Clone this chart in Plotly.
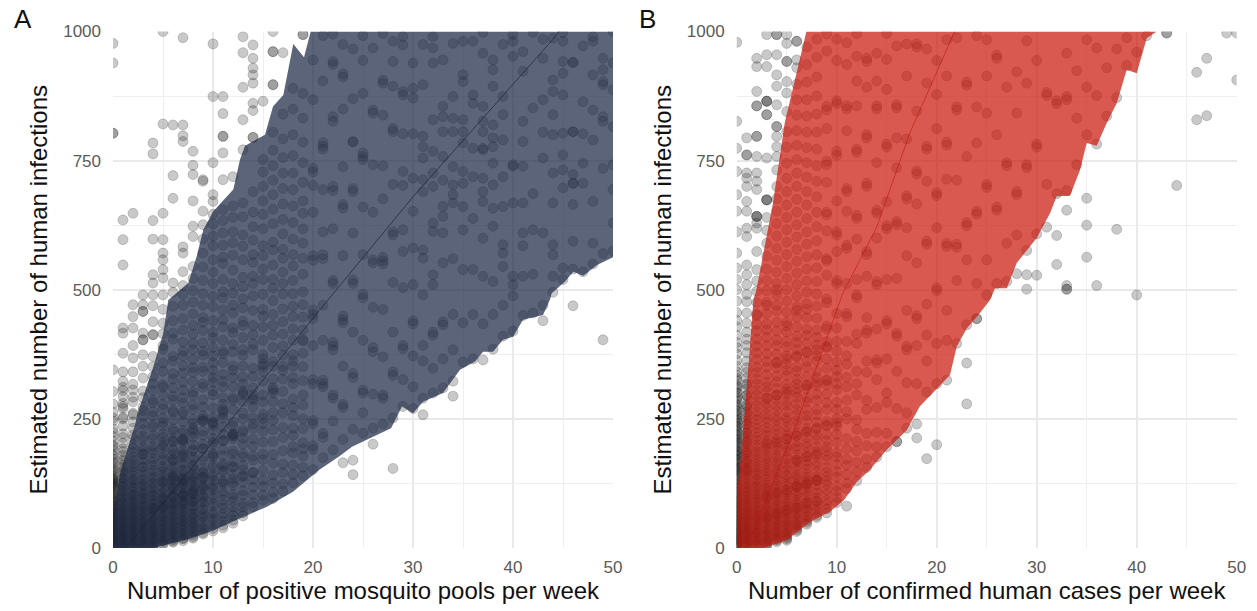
import plotly.graph_objects as go

# Panel A: estimated infections per integer count of positive pools (read by eye)
a0 = [1,2,4,5,7,8,10,12,13,15,17,18,20,21,23,26,27,29,30,33,34,36,39,40,42,44,47,48,50,53,54,57,59,60,63,65,68,69,72,75,76,79,82,83,87,89,92,94,97,99,103,105,108,112,115,117,121,124,127,131,134,138,141,146,150,153,158,163,167,172,178,181,189,196,199,207,216,224,231,246,252,263,279,303,345,803,803,939,977]
a1 = [1,3,4,6,9,10,13,14,16,19,20,23,25,26,29,32,33,36,38,41,43,46,47,51,52,56,58,61,63,67,69,72,76,77,81,85,88,90,95,98,101,106,109,113,118,120,125,129,134,136,142,147,150,156,160,168,171,179,187,192,203,214,221,236,250,253,270,274,280,293,305,311,323,341,377,416,426,548,597,635]
a2 = [2,3,6,7,10,13,14,17,19,22,24,26,29,31,34,37,39,40,44,46,49,52,55,56,60,63,65,69,71,75,78,80,84,87,91,93,98,102,103,108,113,117,120,126,131,133,140,146,151,157,163,170,176,185,193,200,212,219,232,244,258,261,283,292,306,317,341,368,392,426,448,471,648]
a3 = [0,3,5,8,9,12,15,16,20,21,24,27,30,33,34,38,41,42,46,49,50,54,58,60,63,67,70,72,77,81,82,87,91,96,97,103,106,110,116,121,123,130,134,141,147,155,158,166,172,182,189,195,209,216,229,241,254,266,273,291,304,329,352,374,403,403,416,458,458,471,490]
a4 = [0,2,5,7,10,13,15,18,20,23,26,28,31,33,36,40,41,45,48,51,53,57,61,62,67,70,74,76,80,85,87,92,95,101,103,108,113,117,124,127,134,138,146,151,160,167,173,184,190,197,211,218,234,239,256,264,281,286,305,318,332,351,371,413,413,438,469,490,513,529,598,634,763,784]
a5 = [7,9,13,14,18,20,24,27,29,33,36,38,43,45,48,52,54,59,61,65,68,73,76,79,84,86,92,95,99,106,108,115,118,126,129,136,141,148,155,158,170,175,183,194,199,214,221,236,243,251,269,278,296,311,316,342,358,385,392,415,435,462,490,523,539,558,571,597,648,821,1000]
a6 = [11,13,16,19,22,26,28,32,33,38,41,43,47,51,53,58,61,63,68,72,75,78,83,88,90,96,99,103,109,114,117,124,129,136,138,146,153,158,167,171,181,188,192,207,213,226,231,248,263,267,286,294,310,327,338,362,371,404,416,440,468,495,513,677,721,819]
a7 = [14,18,19,24,27,29,34,36,40,44,46,51,53,57,61,64,70,72,76,82,84,90,93,99,102,108,115,117,124,130,133,141,148,151,161,166,176,183,189,203,209,222,228,244,258,263,280,291,306,321,339,353,372,381,399,422,444,470,491,508,535,571,583,787,798,819,988]
a8 = [19,22,26,31,33,38,41,46,49,52,58,60,66,68,74,79,81,88,90,97,103,105,113,118,122,131,136,143,152,158,171,176,191,200,214,222,241,249,268,277,296,302,322,340,349,365,384,396,414,431,453,476,498,522,545,603,623,672,723,741,768]
a9 = [27,30,36,39,45,51,58,62,66,74,77,86,90,99,104,112,119,123,133,138,148,155,170,176,192,201,218,226,246,256,273,287,311,318,342,350,373,381,397,421,437,446,470,492,518,544,571,598,626,652,710,713]
a10 = [33,38,44,52,57,65,69,81,86,96,102,113,117,131,138,156,161,176,183,205,212,228,244,252,271,296,304,321,330,344,358,372,388,407,418,440,467,487,512,534,558,585,604,627,646,671,684,746,874,976]
a11 = [39,44,52,60,66,77,84,93,104,110,124,130,147,158,163,179,191,208,220,234,251,259,278,291,312,323,336,359,376,381,402,428,442,461,484,496,520,551,563,586,610,634,655,713,765,797,797,841,874]
a12 = [48,54,63,70,79,90,98,104,121,127,142,158,168,182,188,211,220,236,244,268,286,291,312,330,344,352,380,394,417,426,455,470,493,512,538,567,591,612,640,662,719]
a13 = [62,68,80,87,102,111,127,138,151,176,182,201,212,229,250,261,283,296,318,331,352,373,384,407,431,439,465,482,506,524,558,584,606,641,668,771,829,892,959,990]
a14 = [80,88,103,118,132,146,170,178,197,211,240,252,273,296,310,332,348,384,395,413,431,460,488,512,526,553,568,596,622,650,690,795,795,847,861,900,916,929,948,974]
a15 = [92,102,119,131,150,171,182,205,226,251,259,283,296,323,342,366,374,402,428,449,462,491,520,540,566,585,618,646,672,700,728,752,865]
a16 = [96,108,126,141,164,181,206,229,247,262,283,310,327,352,361,388,412,431,452,479,503,520,548,577,592,628,656,684,712,740,770,805,897,897,961,961,1000]
a17 = [110,124,146,162,188,214,233,262,279,303,327,352,373,391,414,438,463,492,512,534,561,578,608,636,666,696,726,756,792,840,959]
a18 = [126,142,160,184,196,218,232,256,272,288,318,330,352,374,402,424,448,468,492,518,546,568,598,630,662,694,726,760,800,850,890]
a19 = [140,156,178,192,204,231,250,277,296,324,351,377,403,422,447,471,496,530,561,590,618,648,672,708,746,786,832,880,994,994]
a20 = [152,191,198,240,247,318,326,392,444,452,461,557,566,650,702,728,735,868,945]
a21 = [175,214,222,312,318,325,402,470,560,568,612,694,772,778,785,904,992]
a22 = [190,246,290,296,384,391,398,512,518,618,692,700,826,835,936,942,995]
a23 = [165,210,272,278,352,436,442,449,566,658,665,738,850,912,918,975]
a24 = [142,170,230,330,338,418,512,519,610,690,696,786,787,870,966]
a25 = [222,262,300,306,402,484,491,568,660,752,758,765,880,944,992]
a26 = [201,232,298,380,388,466,552,558,650,742,842,848,968]
a27 = [240,290,296,370,462,550,556,563,676,740,838,900,906,996]
a28 = [154,252,334,341,418,514,606,612,704,806,812,894,942,981]
a29 = [274,326,386,392,504,574,616,702,729,802,877,884,974,990]
a30 = [270,312,372,434,440,510,581,652,716,802,871,890,939]
a31 = [258,290,362,392,490,561,577,690,713,755,777,797,897,975]
a32 = [300,348,412,418,510,529,613,629,700,726,768,829,939,968,990]
a33 = [310,366,432,438,552,610,642,661,712,758,806,835,855,945]
a34 = [294,323,384,452,560,668,684,703,738,806,832,874,977]
a35 = [360,436,539,616,661,706,729,784,806,829,903,916,981]
a36 = [366,452,539,638,719,774,861,877,981]
a37 = [364,434,526,600,671,690,716,771,774,806,826,855,958,998]
a38 = [385,452,516,623,658,703,745,777,794,819,894,926,945]
a39 = [410,470,545,571,587,661,719,790,839,874,975]
a40 = [420,488,510,526,668,739,742,952,981,994]
a41 = [450,526,585,610,668,739,787,826,923,961]
a42 = [455,530,616,686,852,998]
a43 = [440,470,610,755,805,868,948,985]
a44 = [495,526,568,587,668,726,800,839,884,906,987]
a45 = [520,542,697,732,761,803,877,919,942,981,998]
a46 = [469,540,594,665,706,706,723,806,806,940,940]
a47 = [535,706,745,802,864,972]
a48 = [550,590,671,790,848,916,981,990]
a49 = [403,570,735,826,835,897,903,926,948]
a50 = [575,629,694,742,816,887,939,1000]
A_COLUMNS = [a0,a1,a2,a3,a4,a5,a6,a7,a8,a9,a10,a11,a12,a13,a14,a15,a16,a17,a18,a19,a20,a21,a22,a23,a24,a25,
             a26,a27,a28,a29,a30,a31,a32,a33,a34,a35,a36,a37,a38,a39,a40,a41,a42,a43,a44,a45,a46,a47,a48,a49,a50]

# Extra clustered readings in the dense part of panel A
ax_pts = [0,0,0,3,5,6,6,7,7,7,8,8,8,9,9,10,10,10,11,11,12,12,13,13,14,14,15,15,16,16,17,18,19,6,7,8,9,10,11,12,13,14,15,6,7,8,9,10,11,12,13,7,8,9,10,11,12,13,14,5,6,7,8,5,6,7,8,9,4,5,6,7,8,9]
ay_pts = [121,127,133,182,204,206,140,208,212,130,228,232,160,246,250,238,242,180,264,268,218,222,300,304,286,290,352,356,300,306,344,362,401,172,180,188,192,200,208,216,224,232,240,118,124,128,136,142,150,156,160,102,110,116,122,128,134,140,146,96,100,104,108,128,132,136,140,144,76,80,84,88,92,96]

# Panel B: estimated infections per integer count of confirmed cases (read by eye)
b0 = [1,2,3,5,6,8,9,10,12,14,15,17,18,20,22,23,25,27,28,30,32,33,35,38,39,41,43,45,46,49,51,53,55,56,59,61,63,65,68,70,72,74,77,79,81,84,86,89,91,94,97,99,102,105,108,110,114,116,120,123,126,130,133,136,140,143,147,151,154,158,162,166,171,174,178,182,188,191,196,202,205,211,215,220,225,232,236,242,248,252,259,265,272,279,285,293,301,308,315,324,334,341,352,363,376,388,398,412,428,441,456,478,500,520,542,571,612,652,684,729,774,826,979]
b1 = [2,4,7,10,11,14,17,18,22,24,26,29,31,34,36,39,41,45,46,50,53,55,59,62,64,68,70,74,78,80,84,88,91,95,99,102,107,110,115,118,123,127,133,137,142,146,152,156,162,168,172,179,184,190,197,203,210,216,224,230,238,246,252,263,270,277,288,296,308,316,329,340,349,362,378,392,404,418,435,455,477,491,510,529,548,603,619,652,671,700,716,726,761,761,794]
b2 = [2,5,8,11,14,16,20,22,26,29,31,35,37,41,44,47,51,53,57,60,63,67,71,74,78,81,87,90,94,98,103,106,111,116,120,125,131,134,141,145,151,156,162,168,174,181,187,194,200,209,215,223,232,239,248,257,264,276,284,296,305,317,327,340,350,365,378,391,404,420,433,453,475,497,517,539,574,619,629,642,642,642,694,710,726,758,797,797,856,856,884,932,948]
b3 = [4,7,9,13,15,18,22,25,27,31,35,37,41,46,48,53,56,59,64,67,72,75,80,83,88,94,97,102,107,113,116,122,126,133,138,144,149,155,162,167,174,180,188,194,203,208,218,225,233,243,251,260,271,280,290,302,312,321,335,350,361,376,392,408,422,434,454,476,498,518,540,565,590,615,640,674,674,674,755,839,839,865,865,865,932,955,994]
b4 = [12,15,17,21,24,28,31,33,38,41,45,48,53,55,60,64,67,72,75,81,84,90,94,99,104,109,114,120,124,131,136,143,148,154,161,167,175,180,189,196,202,211,219,229,236,247,254,266,275,287,296,309,322,333,349,358,375,392,403,420,437,459,470,490,512,534,557,580,604,628,652,676,700,732,758,777,797,816,816,858,894,916,955,994,994]
b5 = [15,18,21,25,28,32,36,39,44,46,51,55,58,64,67,73,76,81,86,91,96,103,107,112,120,124,131,138,142,151,157,163,172,177,187,194,199,210,218,226,235,246,252,264,276,283,297,308,317,334,344,356,372,389,400,418,437,457,478,500,522,545,568,592,616,640,664,690,716,745,776,806,845,881,903,942,942,977,994]
b6 = [32,35,39,44,46,51,55,59,65,68,73,78,84,88,93,100,105,110,118,123,131,137,142,151,158,166,171,180,191,197,206,217,224,238,246,258,268,279,292,300,318,327,342,351,370,385,398,410,428,447,467,488,510,532,555,578,602,626,650,675,700,726,752,780,808,838,868,898,930,945,981,981]
b7 = [46,50,54,60,63,70,74,79,87,90,98,103,110,117,122,131,137,144,153,161,168,178,185,196,203,214,226,232,247,256,268,283,291,308,316,332,350,361,380,396,412,424,446,462,473,495,517,540,564,588,612,638,664,690,718,746,775,805,836,868,902,936,970]
b8 = [59,63,70,76,82,91,97,106,112,122,131,138,148,159,166,178,187,196,210,218,233,244,258,268,286,298,314,330,342,362,372,393,408,422,445,468,492,516,542,568,595,622,650,680,710,740,772,805,840,875,912,950,985]
b9 = [68,76,85,92,104,112,123,130,147,156,170,178,196,208,220,238,246,268,281,298,316,324,348,366,388,400,424,430,475,482,528,556,560,614,645,650,708,742,749,812,848,855,962,995]
b10 = [88,98,110,120,137,148,162,176,184,204,220,236,250,268,282,306,318,344,360,381,400,426,454,512,518,574,606,612,672,760,768,860,866,944,985]
b11 = [81,115,126,142,160,172,192,212,250,264,286,312,330,356,372,400,448,454,512,580,586,652,690,696,808,850,856,936,978]
b12 = [130,148,166,188,206,230,248,296,318,342,396,414,484,490,520,598,638,644,766,772,856,904,952,996]
b13 = [156,172,198,222,268,286,340,362,416,422,446,526,568,574,700,706,794,800,892,942,948]
b14 = [176,196,224,272,326,358,364,424,510,516,600,648,654,746,850,856,904,958]
b15 = [196,222,282,300,366,434,440,520,618,624,670,776,782,888,946,996]
b16 = [206,206,270,342,410,416,522,626,632,736,794,852,858,972]
b17 = [232,262,320,384,390,460,566,620,676,682,792,914,976]
b18 = [213,240,318,392,444,450,552,666,724,730,846,970,976]
b19 = [173,302,362,412,472,588,594,710,772,778,900,966]
b20 = [200,318,396,498,504,620,682,688,812,878,944]
b21 = [325,402,460,584,590,714,780,786,914,984]
b22 = [396,518,582,588,712,848,854,988]
b23 = [279,358,432,558,624,630,758,896,902]
b24 = [444,444,512,646,652,784,854,992]
b25 = [490,558,698,704,842,914,984]
b26 = [512,654,660,800,948,954]
b27 = [516,590,740,746,892]
b28 = [531,606,684,690,842,922]
b29 = [501,529,576,736,742,900,982]
b30 = [528,608,776,782,944]
b31 = [621,704,876,882]
b32 = [549,605,686,860,866]
b33 = [501,501,508,654,692,868,874,958]
b34 = [742,832,924]
b35 = [563,625,677,800,892,984]
b36 = [508,782,876,968]
b37 = [836,930]
b38 = [617,872,966]
b39 = [934,988]
b40 = [490,960]
b41 = [992]
b42 = []
b43 = [997,997]
b44 = [702]
b45 = []
b46 = [829,921]
b47 = [837,948]
b48 = []
b49 = [997]
b50 = [906,997]
B_COLUMNS = [b0,b1,b2,b3,b4,b5,b6,b7,b8,b9,b10,b11,b12,b13,b14,b15,b16,b17,b18,b19,b20,b21,b22,b23,b24,b25,
             b26,b27,b28,b29,b30,b31,b32,b33,b34,b35,b36,b37,b38,b39,b40,b41,b42,b43,b44,b45,b46,b47,b48,b49,b50]

# Extra clustered readings in the dense part of panel B
bx_pts = [0,0,0,0,0,0,0,0,0,0,0,0,0,0,0,0,0,0,1,1,1,1,1,1,1,1,1,1,3,4,5,6,7,8,9,10,3,4,5,6,7,8,9,10,4,5,6,7,8,9,6,7,8,9,6,7,8,9,3,4,5,6,7,8,3,4,5,6,7,8,2,3,4,5,6]
by_pts = [151,156,170,180,187,198,209,218,228,236,246,256,266,276,289,300,312,328,150,165,185,205,222,240,258,275,295,318,200,206,212,218,224,230,236,242,290,296,302,308,314,320,326,332,360,366,372,378,384,390,170,176,182,188,120,126,132,138,100,106,112,118,124,130,60,66,72,78,84,90,450,470,500,430,460]

# Prediction bands (edge points)
a_upper_x = [0,0.7,2.2,2.4,4.03,5.03,5.53,6.37,7.53,8.37,9.03,10.03,11.03,12.03,12.7,13.2,15.2,16,17.03,18.03,19.1,19.77,50]
a_upper_y = [60,144,238,257,351,416,480,494,513,565,616,652,674,694,752,779,800,855,877,976,950,1000,1000]
a_lower_x = [50,48.4,47.03,46.03,45.2,43.87,43.7,43,41,40,39,38,37,36.2,34.7,33,31,30,28.9,27.8,25.9,23.9,22.6,20.6,18,15.4,13,10,7.7,4.37,4,0]
a_lower_y = [563,548,527,535,516,493,481,451,442,409,403,380,380,361,345,300,283,261,274,232,215,196,177,151,109,80,60,34,18,3,0,0]
b_upper_x = [0,0.5,1.17,1.67,1.97,3.63,4.8,6.97,42]
b_upper_y = [100,190,351,480,500,668,823,1000,1000]
b_lower_x = [42,41,40,39,38,37,36,35,34.33,33.33,32,31.33,30,28,27,25.83,25.33,24.2,23,22,21.33,20,18.3,17,15,13.3,12,10.7,9.3,7.3,5,2.67,0]
b_lower_y = [1000,987,919,926,861,823,779,784,732,682,681,648,600,552,503,503,480,452,425,390,335,309,274,228,190,151,128,92,70,50,15,0,0]

# Fitted lines
a_line_x = [1.3,10,20,30,44,44.6]
a_line_y = [0,205,445,680,985,1000]
b_line_x = [1,6,10.6,14,17.3,21.3,21.8]
b_line_y = [0,241,493,621,803,977,1000]

x_ticks = [0,10,20,30,40,50]
y_ticks = [0,250,500,750,1000]

def flatten(cols):
    xs, ys = [], []
    for i, col in enumerate(cols):
        for v in col:
            xs.append(i)
            ys.append(v)
    return xs, ys

fig = go.Figure()
panels = [
    ("x", "y", A_COLUMNS, ax_pts, ay_pts, a_upper_x, a_upper_y, a_lower_x, a_lower_y, a_line_x, a_line_y,
     "rgba(28,40,68,0.72)", "rgba(25,35,60,0.7)"),
    ("x2", "y2", B_COLUMNS, bx_pts, by_pts, b_upper_x, b_upper_y, b_lower_x, b_lower_y, b_line_x, b_line_y,
     "rgba(203,23,11,0.72)", "rgba(190,20,15,0.55)"),
]
for xa, ya, cols, ex, ey, ux, uy, lx, ly, px, py, band, line in panels:
    xs, ys = flatten(cols)
    fig.add_trace(go.Scatter(x=xs + ex, y=ys + ey, mode="markers", xaxis=xa, yaxis=ya, showlegend=False,
                             marker=dict(size=10, color="rgba(30,30,30,0.24)",
                                         line=dict(width=1, color="rgba(30,30,30,0.2)"))))
    fig.add_trace(go.Scatter(x=ux + lx, y=uy + ly, mode="lines", fill="toself", fillcolor=band,
                             line=dict(width=0), xaxis=xa, yaxis=ya, showlegend=False))
    fig.add_trace(go.Scatter(x=px, y=py, mode="lines", line=dict(width=1, color=line),
                             xaxis=xa, yaxis=ya, showlegend=False))

W, H = 1257, 611
GRID = "#e9e9e9"
GRID2 = "#efefef"
tick_font = dict(family="Liberation Sans, Arial, sans-serif", size=17, color="#5a5a5a")
title_font = dict(family="Liberation Sans, Arial, sans-serif", size=24, color="#111111")
def x_axis(dom, title):
    return dict(domain=dom, range=[0, 50], tickvals=x_ticks, showgrid=True, gridcolor=GRID, gridwidth=1.6,
                minor=dict(dtick=5, tick0=0, showgrid=True, gridcolor=GRID2, gridwidth=1, ticks=""),
                zeroline=False, showline=False, ticks="", tickfont=tick_font, ticklabelstandoff=7,
                title=dict(text=title, font=title_font, standoff=6), automargin=False)
def y_axis(anchor, title):
    return dict(domain=[(H - 548) / H, (H - 31.5) / H], range=[0, 1000], tickvals=y_ticks, showgrid=True,
                gridcolor=GRID, gridwidth=1.6, anchor=anchor,
                minor=dict(dtick=125, tick0=0, showgrid=True, gridcolor=GRID2, gridwidth=1, ticks=""),
                zeroline=False, showline=False, ticks="", tickfont=tick_font, ticklabelstandoff=11,
                title=dict(text=title, font=title_font, standoff=8), automargin=False)

label_font = dict(family="Liberation Sans, Arial, sans-serif", size=26, color="#111111")
fig.update_layout(
    width=W, height=H, paper_bgcolor="white", plot_bgcolor="white",
    margin=dict(l=0, r=0, t=0, b=0), showlegend=False,
    xaxis=x_axis([113 / W, 613 / W], "Number of positive mosquito pools per week"),
    yaxis=y_axis("x", "Estimated number of human infections"),
    xaxis2=dict(x_axis([736.7 / W, 1236.7 / W], "Number of confirmed human cases per week"), anchor="y2"),
    yaxis2=y_axis("x2", "Estimated number of human infections"),
    annotations=[
        dict(text="A", x=12 / W, y=1 - 19 / H, xref="paper", yref="paper", xanchor="left", yanchor="middle",
             showarrow=False, font=label_font),
        dict(text="B", x=637 / W, y=1 - 19 / H, xref="paper", yref="paper", xanchor="left", yanchor="middle",
             showarrow=False, font=label_font),
    ],
)
fig.write_html("out.html", post_script="document.body.style.margin='0';",
               config={"displayModeBar": False})
